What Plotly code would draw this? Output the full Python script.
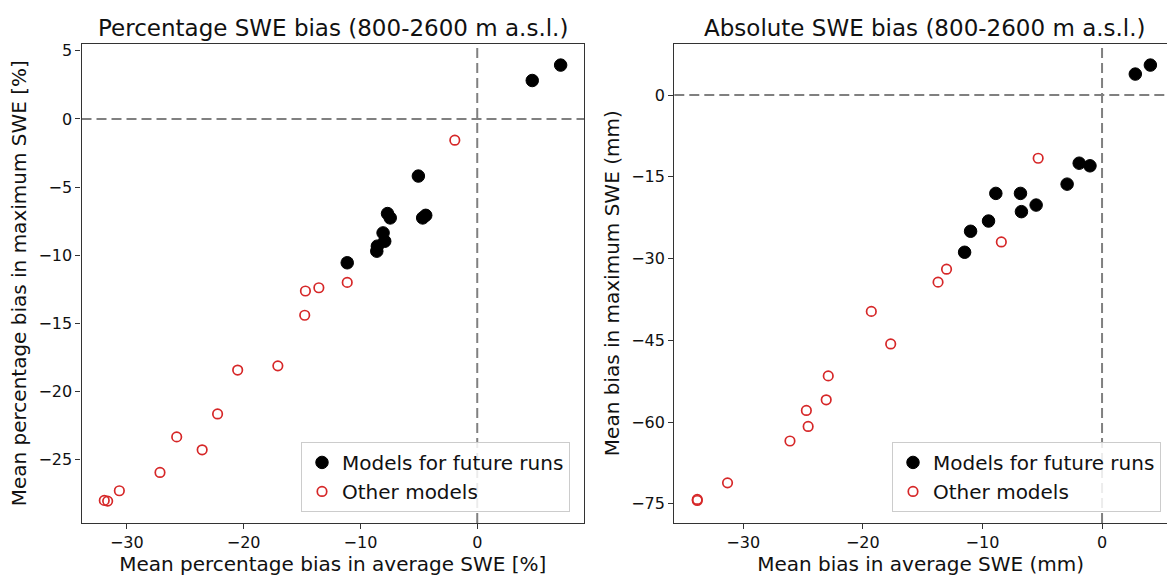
import plotly.graph_objects as go

# ---- Data ----
pct_future_x = [7.14, 4.71, -5.04, -7.68, -7.45, -4.41, -4.67, -8.06, -7.92, -8.55, -8.60, -11.13]
pct_future_y = [3.95, 2.82, -4.19, -6.94, -7.26, -7.07, -7.26, -8.36, -8.97, -9.33, -9.70, -10.55]
pct_other_x = [-1.92, -11.13, -13.56, -14.71, -14.77, -17.07, -20.51, -22.23, -25.73, -23.55,
               -27.16, -30.64, -31.93, -31.64]
pct_other_y = [-1.56, -11.99, -12.38, -12.62, -14.40, -18.11, -18.42, -21.64, -23.32, -24.27,
               -25.93, -27.27, -27.98, -28.03]

abs_future_x = [4.04, 2.78, -1.91, -1.01, -2.92, -8.88, -6.82, -5.51, -6.74, -9.49, -10.99, -11.49]
abs_future_y = [5.49, 3.84, -12.51, -12.99, -16.35, -18.05, -18.05, -20.19, -21.40, -23.12, -25.00, -28.85]
abs_other_x = [-5.34, -8.42, -13.00, -13.71, -19.29, -17.67, -22.89, -23.06, -24.72, -24.57,
               -26.09, -31.31, -33.84, -33.84]
abs_other_y = [-11.60, -26.96, -31.96, -34.33, -39.70, -45.67, -51.53, -55.92, -57.87, -60.80,
               -63.47, -71.15, -74.39, -74.20]

titles = ["Percentage SWE bias (800-2600 m a.s.l.)", "Absolute SWE bias (800-2600 m a.s.l.)"]
xtitles = ["Mean percentage bias in average SWE [%]", "Mean bias in average SWE (mm)"]
ytitles = ["Mean percentage bias in maximum SWE [%]", "Mean bias in maximum SWE (mm)"]
left_xticks = [-30, -20, -10, 0]
left_yticks = [5, 0, -5, -10, -15, -20, -25]
right_xticks = [-30, -20, -10, 0]
right_yticks = [0, -15, -30, -45, -60, -75]

FONT = "DejaVu Sans"
W, H = 1167, 580

fig = go.Figure()

def add_pair(fx, fy, ox, oy, xa, ya, leg):
    fig.add_trace(go.Scatter(
        x=fx, y=fy, mode="markers", name="Models for future runs",
        xaxis=xa, yaxis=ya, legend=leg,
        marker=dict(color="black", size=12.5, line=dict(color="black", width=1))))
    fig.add_trace(go.Scatter(
        x=ox, y=oy, mode="markers", name="Other models",
        xaxis=xa, yaxis=ya, legend=leg,
        marker=dict(color="rgba(0,0,0,0)", size=9.5, line=dict(color="#d62728", width=1.7))))

add_pair(pct_future_x, pct_future_y, pct_other_x, pct_other_y, "x", "y", "legend")
add_pair(abs_future_x, abs_future_y, abs_other_x, abs_other_y, "x2", "y2", "legend2")

ydom = [(H - 522.7) / H, (H - 41.7) / H]
axis_common = dict(showline=True, linecolor="#333333", linewidth=1.3, ticks="outside",
                   ticklen=5, tickwidth=1.2, tickcolor="#333333", showgrid=False, zeroline=False,
                   tickfont=dict(family=FONT, size=16, color="#111111"),
                   title_font=dict(family=FONT, size=20, color="#111111"))

legend_common = dict(xanchor="right", yanchor="bottom",
                     bgcolor="rgba(255,255,255,0.85)", bordercolor="#cccccc", borderwidth=1,
                     font=dict(family=FONT, size=20, color="#111111"))

fig.update_layout(
    width=W, height=H, margin=dict(l=0, r=0, t=0, b=0),
    paper_bgcolor="white", plot_bgcolor="white",
    font=dict(family=FONT, color="#111111"),
    xaxis=dict(domain=[81.5 / W, 584 / W], range=[-33.88, 9.14], tickvals=left_xticks,
               mirror=True, anchor="y", title=dict(text=xtitles[0], standoff=4), **axis_common),
    yaxis=dict(domain=ydom, range=[-29.63, 5.53], tickvals=left_yticks,
               mirror=True, anchor="x", title=dict(text=ytitles[0], standoff=6), **axis_common),
    xaxis2=dict(domain=[674.3 / W, 1.0], range=[-35.76, 5.43], tickvals=right_xticks,
                mirror=True, anchor="y2", title=dict(text=xtitles[1], standoff=4), **axis_common),
    yaxis2=dict(domain=ydom, range=[-78.5, 9.44], tickvals=right_yticks,
                mirror=False, anchor="x2", title=dict(text=ytitles[1], standoff=6), **axis_common),
    legend=dict(x=570 / W, y=(H - 511.7) / H, **legend_common),
    legend2=dict(x=1161 / W, y=(H - 511.7) / H, **legend_common),
)

# titles
fig.add_annotation(text=titles[0], x=332.5 / W, y=(H - 26) / H, xref="paper", yref="paper",
                   xanchor="center", yanchor="middle", showarrow=False,
                   font=dict(family=FONT, size=23, color="#111111"))
fig.add_annotation(text=titles[1], x=925 / W, y=(H - 26) / H, xref="paper", yref="paper",
                   xanchor="center", yanchor="middle", showarrow=False,
                   font=dict(family=FONT, size=23, color="#111111"))

# dashed reference lines at zero
dash_line = dict(color="#808080", width=2, dash="10px,5px")
fig.add_shape(type="line", xref="x", yref="y domain", x0=0, x1=0, y0=0, y1=1, line=dash_line, layer="below")
fig.add_shape(type="line", xref="x domain", yref="y", x0=0, x1=1, y0=0, y1=0, line=dash_line, layer="below")
fig.add_shape(type="line", xref="x2", yref="y2 domain", x0=0, x1=0, y0=0, y1=1, line=dash_line, layer="below")
fig.add_shape(type="line", xref="x2 domain", yref="y2", x0=0, x1=1, y0=0, y1=0, line=dash_line, layer="below")

fig.write_html("out.html", config={"displayModeBar": False},
               post_script="document.body.style.margin='0px';")
